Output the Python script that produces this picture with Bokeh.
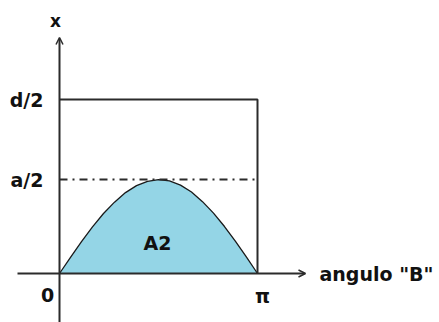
from bokeh.plotting import figure
from bokeh.models import Arrow, OpenHead, ColumnDataSource
from bokeh.core.properties import value
from bokeh.embed import file_html
from bokeh.resources import INLINE

# Levels on the vertical axis (d/2 is the unit)
D_HALF = 1.0
A_HALF = 0.54
ANGLE_END = 3.14159265

# Curve x(B) for B from 0 to pi, every 10 degrees
curve_deg = [0, 10, 20, 30, 40, 50, 60, 70, 80, 90, 100, 110, 120, 130, 140, 150, 160, 170, 180]
curve_x = [0.0, 0.093, 0.183, 0.268, 0.345, 0.41, 0.465, 0.505, 0.53, 0.54,
           0.532, 0.508, 0.468, 0.413, 0.347, 0.27, 0.185, 0.094, 0.0]

y_labels = ["d/2", "a/2"]
y_levels = [D_HALF, A_HALF]
x_labels = ["0", "\u03c0"]
x_levels = [0.0, ANGLE_END]

W, H = 439, 322
# screen scale: pixels per radian and per unit of x
SX = 198 / ANGLE_END
SY = 174.0
ORIGIN_PX = (59, 273)

def dx(px):
    return (px - ORIGIN_PX[0]) / SX

def dy(py):
    return (ORIGIN_PX[1] - py) / SY

curve_b = [d * ANGLE_END / 180 for d in curve_deg]

p = figure(width=W, height=H, output_backend="svg", toolbar_location=None,
           x_range=(dx(0), dx(W)), y_range=(dy(H), dy(0)),
           min_border=0, min_border_left=0, min_border_right=0,
           min_border_top=0, min_border_bottom=0)
p.axis.visible = False
p.grid.visible = False
p.outline_line_color = None
p.background_fill_color = "white"
p.border_fill_color = "white"

FONT = value("DejaVu Sans")
FS = "19px"
INK = "#2b2b2b"

# shaded area under the curve
src = ColumnDataSource(dict(b=curve_b, x=curve_x, base=[0.0] * len(curve_b)))
p.varea(x="b", y1="base", y2="x", source=src, fill_color="#94d5e6")
p.line(x="b", y="x", source=src, line_color="#1a1a1a", line_width=1.3)

# d/2 box
p.line(x=[0, ANGLE_END, ANGLE_END], y=[D_HALF, D_HALF, 0], line_color=INK, line_width=2)
# a/2 level
p.line(x=[0, ANGLE_END], y=[A_HALF, A_HALF], line_color=INK, line_width=2,
       line_dash="8 5 2 5")

# axes with arrow heads
p.add_layout(Arrow(x_start=dx(17), y_start=0, x_end=dx(305), y_end=0,
                   line_color=INK, line_width=2,
                   end=OpenHead(size=7, line_color=INK, line_width=1.5)))
p.add_layout(Arrow(x_start=0, y_start=dy(H), x_end=0, y_end=dy(37),
                   line_color=INK, line_width=2,
                   end=OpenHead(size=7, line_color=INK, line_width=1.5)))

# tick labels
p.text(x=[dx(43)] * 2, y=y_levels, text=y_labels, text_align="right",
       text_baseline="middle", text_font=FONT, text_font_style="bold",
       text_font_size=FS, text_color="#111111")
p.text(x=[dx(47), dx(262)], y=[dy(294), dy(295)], text=x_labels, text_align="center",
       text_baseline="middle", text_font=FONT, text_font_style="bold",
       text_font_size=FS, text_color="#111111")

# axis titles and area label
p.text(x=[dx(55)], y=[dy(20)], text=["x"], text_align="center", text_baseline="middle",
       text_font=FONT, text_font_style="bold", text_font_size="17px", text_color="#111111")
p.text(x=[dx(319)], y=[0], text=['angulo "B"'], text_align="left", text_baseline="middle",
       text_font=FONT, text_font_style="bold", text_font_size=FS, text_color="#111111")
p.text(x=[dx(157)], y=[dy(242)], text=["A2"], text_align="center", text_baseline="middle",
       text_font=FONT, text_font_style="bold", text_font_size=FS, text_color="#111111")

open("out.html", "w").write(file_html(p, INLINE))
